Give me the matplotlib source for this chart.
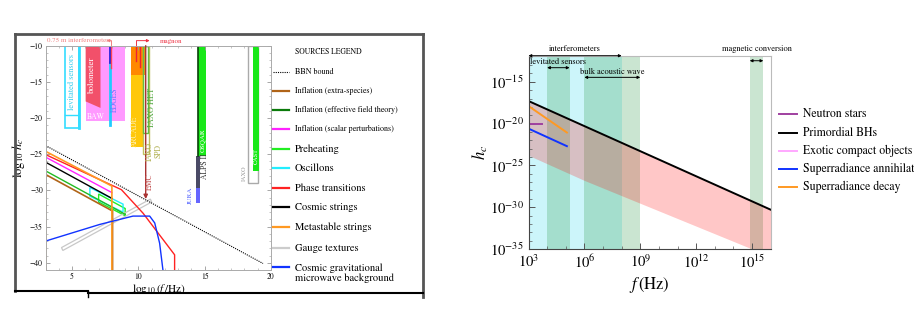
import numpy as np
import matplotlib.pyplot as plt
from matplotlib.lines import Line2D
from matplotlib.patches import Polygon
from matplotlib.ticker import MultipleLocator, LogLocator, NullFormatter

plt.rcParams['font.family'] = 'STIXGeneral'
plt.rcParams['mathtext.fontset'] = 'stix'

W, H = 914, 316


def fx(px):
    return px / W


def fy(py):
    return 1 - py / H


# ---------------- left panel: sources (log10 f, log10 h_c) ----------------
bbn_x, bbn_y = [3, 19.4], [-23.8, -40.1]
extra_x, extra_y = [3, 3, 8, 8.05, 8.05], [-41, -27.8, -32.8, -32.8, -41]
eft_x, eft_y = [3, 9], [-27.3, -33.3]
scalar_x, scalar_y = [3, 8], [-25.4, -30.3]
preheat_x, preheat_y = [7.0, 9.0, 9.0, 7.0], [-30.5, -32.5, -33.5, -31.6]
oscil_x, oscil_y = [6.34, 8.84, 8.84, 6.34], [-29.6, -31.9, -33.0, -30.8]
phase_x, phase_y = [3, 8.72, 10.35, 12.73, 12.73], [-25.05, -29.9, -33.15, -38.9, -41]
strings_x, strings_y = [3, 8], [-26.1, -31.1]
meta_x, meta_y = [3, 3, 8, 8], [-41, -24.6, -29.4, -41]
gauge_x, gauge_y = [4.2, 10.9, 11.0, 4.3], [-37.9, -31.2, -31.6, -38.3]
cgmb_x = [3, 7.09, 9.59, 10.85, 11.23, 11.6, 11.85]
cgmb_y = [-37.0, -34.7, -33.55, -33.55, -34.5, -37.3, -41]

src_labels = ['BBN bound', 'Inflation (extra-species)', 'Inflation (effective field theory)',
              'Inflation (scalar perturbations)', 'Preheating', 'Oscillons',
              'Phase transitions', 'Cosmic strings', 'Metastable strings',
              'Gauge textures', 'Cosmic gravitational\nmicrowave background']
src_colors = ['k', '#b06418', '#0a7a0a', '#ff22ff', '#22ee22', '#22eeff',
              '#ff2222', 'k', '#ff9922', '#cccccc', '#1133ff']

# detectors: (f_lo, f_hi, h_top, h_bottom)
lev_box = (4.46, 5.51, -10, -21.4)
lev_mid = -19.6
bolo_x, bolo_y = [6.02, 7.14, 7.14, 6.02], [-10, -10, -18.6, -17.7]
baw_box = (6.02, 8.97, -10, -20.35)
edges_f, edges_top, edges_split, edges_bot = 7.85, -10, -12.2, -20.97
interf_f, interf_bot = 7.97, -13.1
magnon_f, magnon_bot = [9.85, 10.1], [-12.1, -12.9]
arcade_orange = (9.47, 10.47, -10, -14.05)
arcade_yellow = (9.47, 10.32, -14.05, -24.0)
iaxo_het = (10.35, 10.72, -10, -22.0)
iaxo_spd = (10.35, 10.78, -10, -25.0)
emc_f, emc_bot = 10.55, -31.2
osqar = (14.48, 15.11, -10, -25.2)
alps = (14.38, 14.62, -25.2, -29.7)
jura = (14.38, 14.62, -29.7, -31.7)
iaxo = (18.3, 19.05, -10, -29.0)
cast = (18.62, 19.07, -10, -27.3)

# ---------------- right panel (f in Hz, h_c) ----------------
pbh_f = [1e3, 1e6, 1e15, 1e16]
pbh_hi = [10**-17.3, 10**-20.3, 10**-29.3, 10**-30.3]
pbh_lo = [10**-23.8, 10**-26.8, 10**-35.0, 10**-35.9]
ns_f, ns_h = [1e3, 5.6e3], [1e-20, 1e-20]
ann_f, ann_h = [1e3, 1.15e5], [10**-20.6, 10**-22.7]
dec_f, dec_h = [1e3, 1.15e5], [10**-17.9, 10**-21.07]
bands = {'interferometers': (1e3, 1e8), 'levitated sensors': (1e4, 1.6e5),
         'bulk acoustic wave': (1e6, 1e9), 'magnetic conversion': (7.5e14, 4e15)}
right_labels = ['Neutron stars', 'Primordial BHs', 'Exotic compact objects',
                'Superradiance annihilation', 'Superradiance decay']
right_colors = ['#a040a0', 'k', '#ffa8ff', '#1133ff', '#ff9922']

fig = plt.figure(figsize=(W / 100, H / 100), dpi=100)

# ---- frame of the embedded left figure
frame = dict(transform=fig.transFigure, color='#555555', lw=2)
fig.add_artist(Line2D([fx(15), fx(422.7)], [fy(34), fy(34)], **frame))
fig.add_artist(Line2D([fx(15), fx(15)], [fy(34), fy(291)], **frame))
fig.add_artist(Line2D([fx(422.7), fx(422.7)], [fy(34), fy(297)], **frame))
fig.add_artist(Line2D([fx(15), fx(88)], [fy(291), fy(291)], transform=fig.transFigure, color='k', lw=1.5))
fig.add_artist(Line2D([fx(88), fx(422.7)], [fy(293), fy(293)], transform=fig.transFigure, color='k', lw=1.5))
fig.add_artist(Line2D([fx(88), fx(88)], [fy(291), fy(297)], transform=fig.transFigure, color='k', lw=1))

ax = fig.add_axes([fx(45.6), fy(270), fx(271) - fx(45.6), fy(45.7) - fy(270)])
ax.set_xlim(3, 20)
ax.set_ylim(-41, -10)


def rect(a, box, **kw):
    x0, x1, y0, y1 = box
    a.add_patch(Polygon([[x0, y0], [x1, y0], [x1, y1], [x0, y1]], closed=True, **kw))


# detectors
rect(ax, baw_box, facecolor='#ff99ff', edgecolor='none')
ax.add_patch(Polygon(np.column_stack([bolo_x, bolo_y]), closed=True, facecolor='#f2506a', edgecolor='none'))
rect(ax, lev_box, facecolor='none', edgecolor='#33ddff', lw=1.2)
ax.plot([lev_box[0], lev_box[1]], [lev_mid, lev_mid], color='#33ddff', lw=1)
ax.plot([lev_box[1], lev_box[1]], [lev_box[2], lev_box[3]], color='#33ddff', lw=2)
ax.plot([edges_f, edges_f], [edges_split, edges_bot], color='#22ccff', lw=2)
ax.plot([edges_f, edges_f], [edges_top, edges_split], color='#2222dd', lw=2)
ax.plot([interf_f, interf_f], [-10, interf_bot], color='#ff4455', lw=1)
for f, b in zip(magnon_f, magnon_bot):
    ax.plot([f, f], [-10, b], color='#ee2233', lw=1)
rect(ax, arcade_yellow, facecolor='#ffc80a', edgecolor='none')
rect(ax, arcade_orange, facecolor='#ff8800', edgecolor='none')
rect(ax, iaxo_spd, facecolor='none', edgecolor='#c0c060', lw=1)
rect(ax, iaxo_het, facecolor='none', edgecolor='#66bb44', lw=1)
ax.annotate('', xy=(emc_f, emc_bot), xytext=(emc_f, -10),
            arrowprops=dict(arrowstyle='-|>', color='#a83232', lw=1, mutation_scale=6, shrinkA=0, shrinkB=0))
rect(ax, osqar, facecolor='#18e818', edgecolor='none')
ax.plot([osqar[0], osqar[0]], [osqar[2], osqar[3]], color='#0a400a', lw=1.2)
rect(ax, alps, facecolor='#4a4a66', edgecolor='none')
rect(ax, jura, facecolor='#6666ff', edgecolor='none')
rect(ax, iaxo, facecolor='none', edgecolor='#aaaaaa', lw=1)
rect(ax, cast, facecolor='#18e818', edgecolor='none')

# detector labels
ax.text(4.96, -14.95, 'levitated sensors', rotation=90, color='#33ccee', fontsize=6, ha='center', va='center')
ax.text(6.47, -14.0, 'bolometer', rotation=90, color='white', fontsize=6.5, ha='center', va='center')
ax.text(6.1, -19.9, 'BAW', color='white', fontsize=5.5, ha='left', va='center')
ax.text(8.22, -17.5, 'EDGES', rotation=90, color='#6677ff', fontsize=5.5, ha='center', va='center')
ax.text(9.72, -21.9, 'ARCADE', rotation=90, color='#fff0b0', fontsize=5.5, ha='center', va='center')
ax.text(11.05, -18.5, 'IAXO HET', rotation=90, color='#55aa44', fontsize=6, ha='center', va='center')
ax.text(11.2, -24.6, 'IAXO\nSPD', rotation=90, color='#b0b050', fontsize=5.5, ha='center', va='center',
        linespacing=1.0)
ax.text(10.85, -28.8, 'EMC', rotation=90, color='#c04848', fontsize=5.5, ha='center', va='center')
ax.text(14.84, -23.0, 'OSQAR', rotation=90, color='white', fontsize=5, ha='center', va='center')
ax.text(15.02, -26.7, 'ALPS II', rotation=90, color='#333333', fontsize=5.5, ha='center', va='center')
ax.text(13.9, -30.75, 'JURA', rotation=90, color='#5566ff', fontsize=5, ha='center', va='center')
ax.text(18.0, -27.6, 'IAXO', rotation=90, color='#999999', fontsize=4.5, ha='center', va='center')
ax.text(18.85, -25.2, 'CAST', rotation=90, color='white', fontsize=4.5, ha='center', va='center')

# annotations above the frame
ax.text(3.08, -9.3, r'0.75 m interferometer', color='#f08080', fontsize=5, ha='left', va='center', clip_on=False)
ax.annotate('', xy=(7.6, -9.3), xytext=(interf_f, -9.3), annotation_clip=False,
            arrowprops=dict(arrowstyle='-|>', color='#f08080', lw=0.7, mutation_scale=4, shrinkA=0, shrinkB=0))
ax.plot([interf_f, interf_f], [-9.3, -10], color='#f08080', lw=0.7, clip_on=False)
ax.text(11.6, -9.35, 'magnon', color='#ee3344', fontsize=5, ha='left', va='center', clip_on=False)
ax.annotate('', xy=(10.85, -9.3), xytext=(9.85, -9.3), annotation_clip=False,
            arrowprops=dict(arrowstyle='-|>', color='#ee3344', lw=0.7, mutation_scale=4, shrinkA=0, shrinkB=0))
ax.plot([9.85, 9.85], [-9.3, -10], color='#ee3344', lw=0.7, clip_on=False)

# sources
ax.plot(bbn_x, bbn_y, color='k', ls=(0, (1, 1)), lw=0.8)
ax.plot(extra_x, extra_y, color=src_colors[1], lw=1.2)
ax.plot(eft_x, eft_y, color='#22bb22', lw=1.0)
ax.plot(scalar_x, scalar_y, color=src_colors[3], lw=1.0)
ax.add_patch(Polygon(np.column_stack([preheat_x, preheat_y]), closed=True, fill=False, edgecolor=src_colors[4], lw=1))
ax.add_patch(Polygon(np.column_stack([oscil_x, oscil_y]), closed=True, fill=False, edgecolor=src_colors[5], lw=1))
ax.plot(phase_x, phase_y, color=src_colors[6], lw=1.0)
ax.plot(strings_x, strings_y, color='k', lw=1.0)
ax.plot(meta_x, meta_y, color=src_colors[8], lw=1.2)
ax.add_patch(Polygon(np.column_stack([gauge_x, gauge_y]), closed=True, fill=False, edgecolor='#c8c8c8', lw=0.9))
ax.plot(cgmb_x, cgmb_y, color=src_colors[10], lw=1.0)

for sp in ax.spines.values():
    sp.set_color('#aaaaaa')
    sp.set_linewidth(0.7)
ax.set_xticks([5, 10, 15, 20])
ax.set_yticks([-10, -15, -20, -25, -30, -35, -40])
ax.set_yticklabels(['\u221210', '\u221215', '\u221220', '\u221225', '\u221230', '\u221235', '\u221240'])
ax.xaxis.set_minor_locator(MultipleLocator(1))
ax.yaxis.set_minor_locator(MultipleLocator(1))
ax.tick_params(which='both', direction='in', top=True, right=True, color='#999999', labelsize=5.5, pad=2)
ax.tick_params(which='major', length=3, width=0.6)
ax.tick_params(which='minor', length=1.5, width=0.4)
ax.set_xlabel(r'$\log_{10}(f\,/\mathrm{Hz})$', fontsize=8, labelpad=1)
ax.set_ylabel(r'$\log_{10}\,h_c$', fontsize=9, labelpad=2)

# left legend
fig.text(fx(295), fy(51.7), 'SOURCES LEGEND', fontsize=5.5, va='center', ha='left')
leg_y = [71.7, 91, 110, 129.3, 149, 168.3, 187.7, 207.3, 226.7, 247.7, 273]
for i, (lab, col, yy) in enumerate(zip(src_labels, src_colors, leg_y)):
    ls = (0, (1, 1)) if i == 0 else '-'
    lw = 0.8 if i == 0 else 1.6
    hy = 266.7 if i == len(src_labels) - 1 else yy
    fig.add_artist(Line2D([fx(273.3), fx(289.3)], [fy(hy), fy(hy)], transform=fig.transFigure,
                          color=col, ls=ls, lw=lw))
    fs = 5.8 if i < 4 else 7.6
    fig.text(fx(295), fy(yy), lab, fontsize=fs, va='center', ha='left', linespacing=1.0)

# ---------------- right panel ----------------
bx = fig.add_axes([fx(528.5), fy(249), fx(770.7) - fx(528.5), fy(55.7) - fy(249)])
bx.set_xscale('log')
bx.set_yscale('log')
bx.set_xlim(1e3, 1e16)
bx.set_ylim(1e-35, 10**-11.88)

band_cols = {'interferometers': ('#00d0e8', 0.2), 'levitated sensors': ('#2e9a4a', 0.25),
             'bulk acoustic wave': ('#2e9a4a', 0.25), 'magnetic conversion': ('#2e9a4a', 0.25)}
for name, (lo, hi) in bands.items():
    c, a = band_cols[name]
    bx.axvspan(lo, hi, color=c, alpha=a, lw=0)

bx.fill_between(pbh_f, pbh_lo, pbh_hi, color='#ff0000', alpha=0.22, lw=0)
bx.plot(pbh_f, pbh_hi, color='k', lw=1.4)
bx.plot(ns_f, ns_h, color=right_colors[0], lw=1.4)
bx.plot(dec_f, dec_h, color=right_colors[4], lw=1.4)
bx.plot(ann_f, ann_h, color=right_colors[3], lw=1.4)

xtr = bx.get_xaxis_transform()
arrow_y = {'interferometers': 1.0, 'levitated sensors': 0.938,
           'bulk acoustic wave': 0.888, 'magnetic conversion': 0.974}
text_y = {'interferometers': 1.016, 'levitated sensors': 0.969,
          'bulk acoustic wave': 0.914, 'magnetic conversion': 1.016}
for name, (lo, hi) in bands.items():
    bx.annotate('', xy=(hi, arrow_y[name]), xytext=(lo, arrow_y[name]), xycoords=xtr,
                annotation_clip=False,
                arrowprops=dict(arrowstyle='<|-|>', color='k', lw=0.7, mutation_scale=4, shrinkA=0, shrinkB=0))
    bx.text(np.sqrt(lo * hi), text_y[name], name, transform=xtr, fontsize=6, ha='center', va='bottom'
            if name in ('interferometers', 'magnetic conversion') else 'center', clip_on=False)

bx.spines['left'].set_color('#444444')
bx.spines['bottom'].set_color('#444444')
bx.spines['top'].set_color('#bbbbbb')
bx.spines['right'].set_color('#bbbbbb')
for sp in bx.spines.values():
    sp.set_linewidth(0.8)
bx.xaxis.set_major_locator(LogLocator(base=1000.0, numticks=10))
bx.xaxis.set_minor_locator(LogLocator(base=10.0, subs=(1.0,), numticks=30))
bx.xaxis.set_minor_formatter(NullFormatter())
bx.yaxis.set_major_locator(LogLocator(base=1e5, numticks=10))
bx.yaxis.set_minor_locator(LogLocator(base=10.0, subs=(1.0,), numticks=40))
bx.yaxis.set_minor_formatter(NullFormatter())
bx.tick_params(which='both', direction='in', labelsize=10.5, color='#555555')
bx.tick_params(which='major', length=4, width=0.7)
bx.tick_params(which='minor', length=2, width=0.5)
bx.set_xlabel(r'$f\,(\mathrm{Hz})$', fontsize=12, labelpad=3)
bx.set_ylabel(r'$h_c$', fontsize=12, labelpad=0)

ry = [114, 132.7, 151, 169.3, 187.3]
for lab, col, yy in zip(right_labels, right_colors, ry):
    fig.add_artist(Line2D([fx(779), fx(797)], [fy(yy), fy(yy)], transform=fig.transFigure, color=col, lw=1.4))
    fig.text(fx(803), fy(yy), lab, fontsize=8.5, va='center', ha='left')

fig.savefig('out.png', dpi=100)
